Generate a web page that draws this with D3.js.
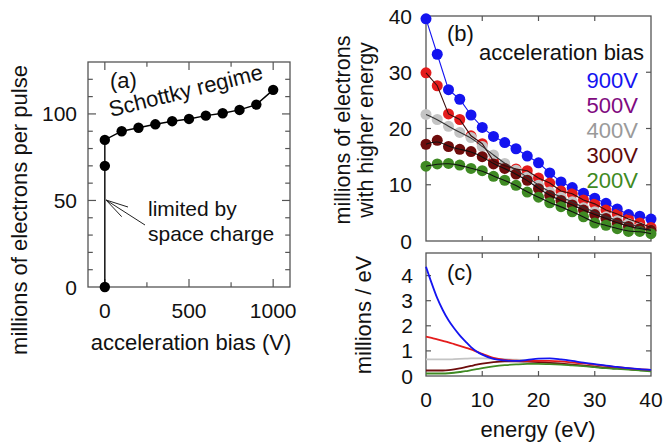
<!DOCTYPE html>
<html>
<head>
<meta charset="utf-8">
<script src="https://cdn.jsdelivr.net/npm/d3@7"></script>
<style>
  body { margin: 0; background: #fff; }
  svg { display: block; font-family: "Liberation Sans", Arial, sans-serif; }
</style>
</head>
<body>
<svg id="chart" width="663" height="447"></svg>
<script>
// panel (a)
const biasA = [0, 0, 0, 100, 200, 300, 400, 500, 600, 700, 800, 900, 1000];
const electronsA = [0, 70, 85, 90, 92, 94, 95.8, 97.1, 99, 100.4, 102.3, 105.4, 113.9];

// panel (b)
const energyB = [0, 2, 4, 6, 8, 10, 12, 14, 16, 18, 20, 22, 24, 26, 28, 30, 32, 34, 36, 38, 40];
const b900 = [39.5, 33.2, 26.9, 25.2, 22.4, 20.2, 18.6, 17.5, 16.4, 15.1, 13.9, 12.1, 10.5, 9.5, 8.5, 7.6, 6.7, 5.7, 4.7, 4.4, 3.9];
const b500 = [29.9, 27.6, 22.6, 21.6, 18.7, 17.3, 14.2, 13.4, 12.8, 12.5, 11.2, 10.3, 8.9, 8.4, 7.3, 6.6, 5.5, 4.8, 3.9, 3.2, 2.4];
const b400 = [22.5, 21.6, 20.4, 19.3, 18.4, 16.8, 15.3, 13.8, 12.6, 11.4, 9.9, 8.7, 7.8, 7.0, 5.9, 5.2, 4.3, 3.6, 3.1, 2.4, 1.9];
const b300 = [17.2, 17.9, 16.8, 16.3, 15.9, 15.0, 13.7, 12.9, 11.9, 10.8, 9.3, 8.1, 7.2, 6.4, 5.5, 4.7, 4.0, 3.2, 2.6, 2.2, 1.9];
const b200 = [13.3, 13.7, 13.8, 13.5, 12.9, 12.5, 11.5, 10.8, 9.9, 8.7, 7.8, 6.8, 6.1, 5.2, 4.3, 3.2, 2.8, 2.2, 1.7, 1.7, 1.3];

// panel (c)
const energyC = [0, 1, 2, 3, 4, 5, 6, 7, 8, 9, 10, 12, 14, 16, 18, 20, 22, 24, 26, 28, 30, 32, 34, 36, 38, 40];
const c900 = [4.35, 3.7, 3.1, 2.62, 2.22, 1.9, 1.62, 1.38, 1.15, 0.98, 0.85, 0.68, 0.62, 0.6, 0.64, 0.69, 0.7, 0.66, 0.6, 0.53, 0.47, 0.41, 0.36, 0.31, 0.27, 0.24];
const c500 = [1.57, 1.52, 1.46, 1.4, 1.34, 1.27, 1.2, 1.13, 1.06, 0.97, 0.88, 0.72, 0.64, 0.61, 0.6, 0.6, 0.6, 0.58, 0.54, 0.5, 0.45, 0.4, 0.35, 0.31, 0.27, 0.24];
const c400 = [0.66, 0.66, 0.66, 0.66, 0.66, 0.67, 0.68, 0.69, 0.7, 0.7, 0.7, 0.69, 0.67, 0.65, 0.62, 0.58, 0.54, 0.5, 0.46, 0.42, 0.38, 0.34, 0.31, 0.28, 0.25, 0.23];
const c300 = [0.22, 0.22, 0.22, 0.22, 0.23, 0.26, 0.3, 0.35, 0.4, 0.45, 0.49, 0.55, 0.58, 0.58, 0.57, 0.55, 0.52, 0.49, 0.45, 0.41, 0.37, 0.33, 0.3, 0.27, 0.24, 0.22];
const c200 = [0.1, 0.1, 0.1, 0.1, 0.11, 0.13, 0.16, 0.19, 0.23, 0.27, 0.31, 0.38, 0.43, 0.46, 0.48, 0.48, 0.47, 0.45, 0.42, 0.39, 0.35, 0.31, 0.28, 0.25, 0.22, 0.19];

const legendLabels = ["900V", "500V", "400V", "300V", "200V"];
const legendColors = ["#1414f0", "#800a80", "#9a9a9a", "#5e0a0a", "#3f8a1f"];

const colors = { v900: "#1414f0", v500: "#e41c1c", v400: "#c4c4c4", v300: "#6e0c0c", v200: "#3f8a23" };
const frameColor = "#555";

const svg = d3.select("#chart");

// draws a framed box with inward ticks on all four sides
function frame(g, x, y, xTicks, yTicks, len) {
    const [x0, x1] = x.range();
    const [y0, y1] = y.range();
    g.append("rect")
        .attr("x", x0).attr("y", y1)
        .attr("width", x1 - x0).attr("height", y0 - y1)
        .attr("fill", "none").attr("stroke", frameColor).attr("stroke-width", 1.3);
    xTicks.forEach(t => {
        const l = t.major ? len : len * 0.6;
        g.append("line").attr("x1", x(t.v)).attr("x2", x(t.v)).attr("y1", y0).attr("y2", y0 - l)
            .attr("stroke", frameColor).attr("stroke-width", 1.2);
        g.append("line").attr("x1", x(t.v)).attr("x2", x(t.v)).attr("y1", y1).attr("y2", y1 + l)
            .attr("stroke", frameColor).attr("stroke-width", 1.2);
    });
    yTicks.forEach(t => {
        const l = t.major ? len : len * 0.6;
        g.append("line").attr("y1", y(t.v)).attr("y2", y(t.v)).attr("x1", x0).attr("x2", x0 + l)
            .attr("stroke", frameColor).attr("stroke-width", 1.2);
        g.append("line").attr("y1", y(t.v)).attr("y2", y(t.v)).attr("x1", x1).attr("x2", x1 - l)
            .attr("stroke", frameColor).attr("stroke-width", 1.2);
    });
}

function label(g, x, y, txt, size, anchor, rot) {
    const t = g.append("text")
        .attr("x", x).attr("y", y)
        .attr("font-size", size)
        .attr("text-anchor", anchor || "start")
        .attr("fill", "#111")
        .text(txt);
    if (rot) t.attr("transform", `rotate(${rot}, ${x}, ${y})`);
    return t;
}

// PANEL A
// ///////
const xa = d3.scaleLinear().domain([-100, 1100]).range([88, 290]);
const ya = d3.scaleLinear().domain([0, 130]).range([287, 62]);
const ga = svg.append("g");

frame(ga, xa, ya,
    [0, 250, 500, 750, 1000].map(v => ({v: v, major: v % 500 === 0})),
    [10, 20, 30, 40, 50, 60, 70, 80, 90, 100, 110, 120].map(v => ({v: v, major: v % 50 === 0})),
    8);

[0, 500, 1000].forEach(v => label(ga, xa(v), 318, v, 21, "middle"));
[0, 50, 100].forEach(v => label(ga, 77, ya(v) + 7.5, v, 21, "end"));

ga.append("path")
    .datum(biasA.map((b, i) => [b, electronsA[i]]))
    .attr("d", d3.line().x(d => xa(d[0])).y(d => ya(d[1])))
    .attr("fill", "none").attr("stroke", "#000").attr("stroke-width", 1.4);
ga.selectAll("circle")
    .data(biasA.map((b, i) => [b, electronsA[i]]))
    .join("circle")
    .attr("cx", d => xa(d[0])).attr("cy", d => ya(d[1]))
    .attr("r", 5.2).attr("fill", "#000");

label(ga, 110, 88, "(a)", 22);
label(ga, 111, 117, "Schottky regime", 22, "start", -14);
label(ga, 148, 216, "limited by", 21);
label(ga, 148, 241, "space charge", 21);
// arrow
ga.append("path")
    .attr("d", "M145,225 L106,200 M128,207 L106,200 L121.7,216.7")
    .attr("fill", "none").attr("stroke", "#222").attr("stroke-width", 1);

label(ga, 191, 350, "acceleration bias (V)", 22, "middle");
label(ga, 27, 210, "millions of electrons per pulse", 22, "middle", -90);

// PANEL B
// ///////
const xb = d3.scaleLinear().domain([0, 40]).range([426, 651]);
const yb = d3.scaleLinear().domain([0, 40]).range([241, 16]);
const gb = svg.append("g");

frame(gb, xb, yb,
    [10, 20, 30].map(v => ({v: v, major: true})),
    [10, 20, 30].map(v => ({v: v, major: true})),
    5);
[0, 10, 20, 30, 40].forEach(v => label(gb, 412, yb(v) + 7.5, v, 21, "end"));

const seriesB = [
    {vals: b900, color: colors.v900, line: colors.v900, curve: d3.curveLinear},
    {vals: b500, color: colors.v500, line: "#3a0d0d", curve: d3.curveLinear},
    {vals: b400, color: colors.v400, line: "#333", curve: d3.curveBasis},
    {vals: b300, color: colors.v300, line: "#111", curve: d3.curveBasis},
    {vals: b200, color: colors.v200, line: "#111", curve: d3.curveBasis}
];

seriesB.forEach(s => {
    const pts = energyB.map((e, i) => [e, s.vals[i]]);
    gb.append("g").selectAll("circle")
        .data(pts)
        .join("circle")
        .attr("cx", d => xb(d[0])).attr("cy", d => yb(d[1]))
        .attr("r", 5.5).attr("fill", s.color);
});
seriesB.forEach(s => {
    const pts = energyB.map((e, i) => [e, s.vals[i]]);
    gb.append("path")
        .datum(pts)
        .attr("d", d3.line().curve(s.curve).x(d => xb(d[0])).y(d => yb(d[1])))
        .attr("fill", "none").attr("stroke", s.line).attr("stroke-width", 1.1);
});

label(gb, 447, 41, "(b)", 22);
label(gb, 644, 60, "acceleration bias", 22, "end");
legendLabels.forEach((t, i) => {
    label(gb, 638, 88 + i * 25, t, 22, "end").attr("fill", legendColors[i]);
});

label(gb, 350, 130, "millions of electrons", 21.5, "middle", -90);
label(gb, 373, 130, "with higher energy", 21.5, "middle", -90);

// PANEL C
// ///////
const xc = d3.scaleLinear().domain([0, 40]).range([426, 651]);
const yc = d3.scaleLinear().domain([0, 4.9]).range([376, 253]);
const gc = svg.append("g");

frame(gc, xc, yc,
    [10, 20, 30].map(v => ({v: v, major: true})),
    [1, 2, 3, 4].map(v => ({v: v, major: true})),
    5);
[0, 1, 2, 3, 4].forEach(v => label(gc, 413, yc(v) + 7.5, v, 21, "end"));
[0, 10, 20, 30, 40].forEach(v => label(gc, xc(v), 407, v, 21, "middle"));

const seriesC = [
    {vals: c400, color: colors.v400},
    {vals: c300, color: colors.v300},
    {vals: c200, color: colors.v200},
    {vals: c500, color: colors.v500},
    {vals: c900, color: colors.v900}
];
seriesC.forEach(s => {
    gc.append("path")
        .datum(energyC.map((e, i) => [e, s.vals[i]]))
        .attr("d", d3.line().curve(d3.curveMonotoneX).x(d => xc(d[0])).y(d => yc(d[1])))
        .attr("fill", "none").attr("stroke", s.color).attr("stroke-width", 1.8);
});

label(gc, 447, 280, "(c)", 22);
label(gc, 538, 437, "energy (eV)", 22, "middle");
label(gc, 371, 315, "millions / eV", 22, "middle", -90);
</script>
</body>
</html>
